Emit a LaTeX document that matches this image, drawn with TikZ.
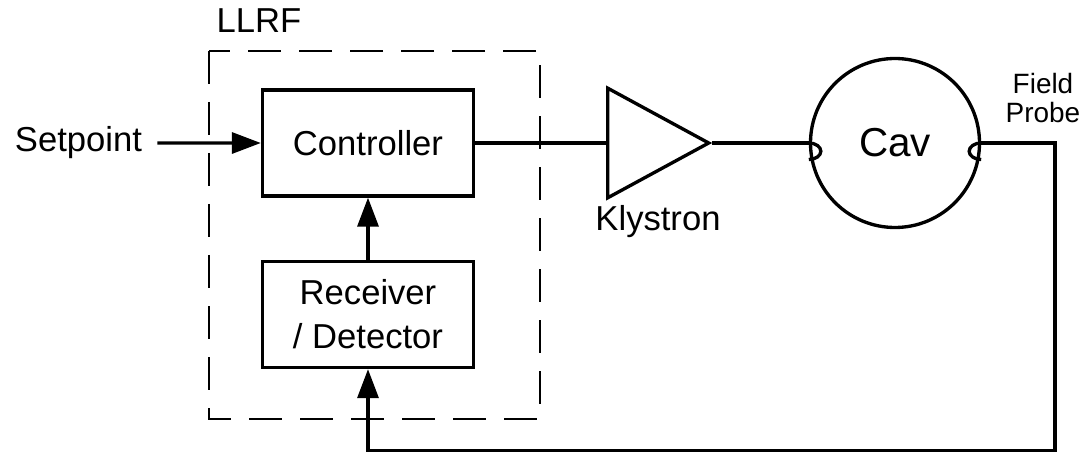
\documentclass[tikz,border=0pt]{standalone}
\usepackage{fontspec}
\setmainfont{Liberation Sans}
\usepackage{tikz}
\usetikzlibrary{positioning, arrows.meta, shapes.geometric}

\begin{document}
\begin{tikzpicture}[
    block/.style = {
        rectangle, draw, line width=1.9pt, minimum width=4.22cm, minimum height=2.12cm,
        align=center, font=\fontsize{19.7}{25}\selectfont, inner sep=0pt
    },
    amp/.style = {
        isosceles triangle, isosceles triangle apex angle=57, draw, line width=1.9pt,
        minimum height=2.02cm, inner sep=0pt
    },
    cavity/.style = {
        circle, draw, line width=1.9pt, minimum size=3.38cm, inner sep=0pt,
        font=\fontsize{23}{28}\selectfont
    },
    labelnode/.style = {
        font=\fontsize{19.7}{25}\selectfont, inner sep=0pt
    },
    groupbox/.style = {
        draw, line width=1.3pt, dash pattern=on 0.66cm off 0.36cm
    },
    wire/.style = {
        line width=1.9pt
    },
    arrow/.style = {
        wire, -{Triangle[length=0.58cm, width=0.42cm]}
    }
]

\useasboundingbox (0,0) rectangle (21.7,9.06);

% ── LLRF group ──
\draw[groupbox] (4.18,8.04) rectangle (10.8,0.68);
\node[labelnode, anchor=base] (llrf) at (5.18,8.4) {LLRF};

% ── Blocks ──
\node[block] (ctrl) at (7.36,6.2)  {Controller};
\node[block] (recv) at (7.36,2.77) {Receiver\\/ Detector};
\node[labelnode, anchor=base] (setpoint) at (1.57,6.02) {Setpoint};

% ── Klystron and cavity ──
\node[amp, anchor=west] (kly) at (12.12,6.2) {};
\node[labelnode, anchor=base] (klylabel) at (13.16,4.44) {Klystron};
\node[cavity] (cav) at (17.9,6.2) {Cav};
\node[labelnode, font=\fontsize{15.9}{16.6}\selectfont, align=center, anchor=north]
    (probe) at (20.86,7.6) {Field\\Probe};

% ── Coupling loops ──
\draw[wire] (cav.west) arc[start angle=90, end angle=-90, x radius=0.24cm, y radius=0.165cm];
\draw[wire] (cav.east) arc[start angle=90, end angle=270, x radius=0.24cm, y radius=0.165cm];

% ── Forward path ──
\draw[arrow] ([xshift=0.3cm]setpoint.east) -- (ctrl.west);
\draw[wire] (ctrl.east) -- (kly.west);
\draw[wire] (kly.apex) -- (cav.west);
\draw[arrow] (recv.north) -- (ctrl.south);

% ── Feedback path ──
\coordinate (fb) at (21.1,0.05);
\draw[arrow] (cav.east) -| (fb) -| (recv.south);

\end{tikzpicture}
\end{document}
